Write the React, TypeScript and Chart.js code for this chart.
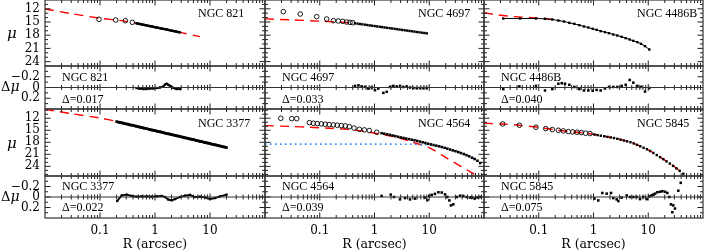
import React, { useEffect, useRef } from 'react';
import { Chart, registerables } from 'chart.js';
Chart.register(...registerables);

// ---------------- axis ticks ----------------
const xTickLabels = [0.1, 1, 10];
const xMajorTicks = [0.1, 1, 10];
const xMinorTicks = [0.02, 0.03, 0.04, 0.05, 0.06, 0.07, 0.08, 0.09, 0.2, 0.3, 0.4, 0.5, 0.6, 0.7, 0.8, 0.9, 2, 3, 4, 5, 6, 7, 8, 9, 20, 30, 40, 50, 60, 70, 80, 90];
const muTickLabels = [12, 15, 18, 21, 24];
const muMinorTicks = [10, 11, 13, 14, 16, 17, 19, 20, 22, 23, 25, 26];
const resTickLabels = [-0.2, 0, 0.2];
const resMinorTicks = [-0.3, -0.1, 0.1, 0.3];

// ---------------- NGC 821 ----------------
const n821CircR = [0.096, 0.193, 0.289, 0.387];
const n821CircMu = [14.39, 14.55, 14.7, 15.08];
const n821R = [0.46, 0.49, 0.52, 0.55, 0.59, 0.63, 0.67, 0.71, 0.76, 0.81, 0.86, 0.92, 0.98, 1.04, 1.11, 1.18, 1.26, 1.34, 1.43, 1.52, 1.62, 1.72, 1.84, 1.96, 2.09, 2.22, 2.37, 2.52, 2.68, 2.85];
const n821Mu = [15.3, 15.37, 15.44, 15.5, 15.58, 15.65, 15.72, 15.79, 15.86, 15.94, 16.0, 16.08, 16.15, 16.22, 16.29, 16.36, 16.44, 16.51, 16.58, 16.63, 16.68, 16.77, 16.86, 16.94, 17.01, 17.08, 17.15, 17.22, 17.29, 17.36];
const n821ModelR = [0.01, 0.03, 0.1, 0.3, 1, 3, 6.6];
const n821ModelMu = [12.05, 13.1, 14.15, 14.85, 16.15, 17.42, 18.33];
const n821ResR = [0.46, 0.53, 0.61, 0.7, 0.81, 0.93, 1.07, 1.23, 1.42, 1.52, 1.63, 1.75, 1.87, 2.01, 2.15, 2.31, 2.48, 2.85];
const n821Res = [0.01, 0.02, 0.03, 0.03, 0.02, 0.015, 0.01, 0.0, -0.02, -0.055, -0.07, -0.05, -0.03, -0.01, 0.005, 0.015, 0.03, 0.03];

// ---------------- NGC 4697 ----------------
const n4697CircR = [0.0216, 0.044, 0.088, 0.134, 0.178, 0.218, 0.262, 0.31, 0.357, 0.4];
const n4697CircMu = [12.65, 13.18, 13.79, 14.32, 14.7, 14.77, 14.85, 15.0, 15.08, 15.15];
const n4697R = [0.44, 0.49, 0.54, 0.6, 0.67, 0.74, 0.82, 0.91, 1.01, 1.12, 1.25, 1.38, 1.53, 1.7, 1.89, 2.1, 2.33, 2.59, 2.87, 3.19, 3.54, 3.93, 4.36, 4.84, 5.37, 5.96, 6.62, 7.35, 8.15, 9.0];
const n4697Mu = [15.3, 15.38, 15.45, 15.53, 15.61, 15.69, 15.77, 15.85, 15.93, 16.0, 16.09, 16.16, 16.24, 16.32, 16.4, 16.48, 16.56, 16.64, 16.72, 16.8, 16.87, 16.95, 17.03, 17.11, 17.19, 17.27, 17.35, 17.43, 17.5, 17.58];
const n4697ModelR = [0.01, 0.03, 0.1, 0.3, 0.45];
const n4697ModelMu = [14.3, 14.52, 14.8, 15.1, 15.25];
const n4697ResR = [0.44, 0.51, 0.58, 0.67, 0.77, 0.89, 1.02, 1.17, 1.45, 1.67, 1.92, 2.21, 2.54, 2.92, 3.36, 3.87, 4.45, 5.12, 5.89, 6.78, 7.8, 8.97];
const n4697Res = [-0.03, -0.04, -0.02, -0.01, 0.02, 0.0, 0.05, 0.02, 0.1, 0.08, -0.01, -0.03, -0.02, -0.03, -0.01, -0.02, 0.0, 0.01, 0.01, 0.01, 0.01, 0.01];

// ---------------- NGC 4486B ----------------
const n4486bR = [0.0225, 0.0455, 0.089, 0.13, 0.177, 0.228, 0.289, 0.362, 0.447, 0.551, 0.67, 0.805, 0.966, 1.14, 1.35, 1.62, 1.92, 2.3, 2.72, 3.27, 3.87, 4.58, 5.34, 6.32, 7.38, 8.73, 10.47];
const n4486bMu = [14.2, 14.2, 14.2, 14.27, 14.43, 14.66, 14.89, 15.19, 15.42, 15.72, 16.02, 16.25, 16.55, 16.78, 17.08, 17.31, 17.54, 17.84, 18.07, 18.37, 18.67, 18.98, 19.28, 19.58, 19.96, 20.49, 21.25];
const n4486bModelR = [0.01, 0.018, 0.037, 0.074, 0.15, 0.25];
const n4486bModelMu = [12.88, 13.4, 13.79, 14.0, 14.32, 14.75];
const n4486bResR = [0.0225, 0.0441, 0.089, 0.13, 0.177, 0.228, 0.263, 0.301, 0.362, 0.447, 0.551, 0.67, 0.805, 0.966, 1.14, 1.35, 1.62, 1.92, 2.3, 2.72, 3.27, 3.87, 4.58, 5.34, 6.32, 7.38, 8.73, 10.47];
const n4486bRes = [0.03, -0.02, -0.03, 0.055, 0.03, -0.07, -0.08, -0.07, -0.05, -0.01, 0.03, 0.055, 0.055, 0.06, 0.045, 0.055, 0.02, -0.01, -0.01, -0.01, -0.03, -0.05, -0.14, -0.09, -0.03, -0.01, 0.075, 0.01];

// ---------------- NGC 3377 ----------------
const n3377R = [0.2, 0.22, 0.25, 0.28, 0.32, 0.35, 0.4, 0.45, 0.5, 0.56, 0.63, 0.71, 0.79, 0.89, 1.0, 1.12, 1.26, 1.41, 1.58, 1.78, 2.0, 2.24, 2.51, 2.82, 3.16, 3.55, 3.98, 4.47, 5.01, 5.62, 6.31, 7.08, 7.94, 8.91, 10.0, 11.2, 12.6, 14.1, 15.8, 17.8, 20.0];
const n3377Mu = [12.84, 13.0, 13.16, 13.33, 13.49, 13.65, 13.81, 13.97, 14.13, 14.29, 14.46, 14.62, 14.78, 14.94, 15.1, 15.26, 15.42, 15.59, 15.75, 15.91, 16.07, 16.23, 16.39, 16.55, 16.72, 16.88, 17.04, 17.2, 17.36, 17.52, 17.68, 17.85, 18.01, 18.17, 18.33, 18.49, 18.65, 18.81, 18.98, 19.14, 19.3];
const n3377ModelR = [0.01, 0.03, 0.1, 0.2];
const n3377ModelMu = [9.78, 10.85, 11.95, 12.75];
const n3377ResR = [0.206, 0.248, 0.305, 0.377, 0.464, 0.573, 0.705, 0.869, 1.07, 1.32, 1.52, 1.75, 2.01, 2.31, 2.85, 3.51, 4.33, 5.34, 6.58, 8.11, 10.0, 12.3, 15.2, 20.1];
const n3377Res = [0.077, -0.03, -0.045, -0.02, -0.006, -0.013, -0.013, -0.006, -0.013, -0.02, 0.0, 0.05, 0.064, 0.04, 0.0, -0.026, -0.04, 0.0, -0.006, 0.006, 0.04, 0.02, -0.013, -0.045];

// ---------------- NGC 4564 ----------------
const n4564CircR = [0.0194, 0.0308, 0.038, 0.0646, 0.0764, 0.0902, 0.107, 0.126, 0.149, 0.177, 0.209, 0.248, 0.293, 0.347, 0.423, 0.528, 0.652, 0.804, 1.1];
const n4564CircMu = [12.02, 12.1, 12.1, 13.09, 13.25, 13.34, 13.42, 13.5, 13.58, 13.67, 13.75, 13.83, 13.92, 14.1, 14.45, 14.75, 14.91, 15.07, 15.49];
const n4564R = [1.35, 1.51, 1.7, 1.91, 2.14, 2.4, 2.69, 3.02, 3.39, 3.8, 4.27, 4.79, 5.37, 6.03, 6.76, 7.59, 8.51, 9.55, 10.7, 12.0, 13.5, 15.1, 17.0, 19.1, 21.4, 24.0, 26.9, 30.2, 33.9, 38.0, 42.7, 47.9, 53.7, 60.3, 67.6, 75.9, 85.1];
const n4564Mu = [15.73, 15.87, 16.01, 16.15, 16.31, 16.46, 16.62, 16.78, 16.92, 17.07, 17.21, 17.36, 17.51, 17.66, 17.81, 17.99, 18.17, 18.35, 18.52, 18.68, 18.84, 19.0, 19.18, 19.38, 19.59, 19.8, 20.01, 20.22, 20.44, 20.68, 20.92, 21.2, 21.48, 21.84, 22.16, 22.6, 23.17];
const n4564ModelR = [0.01, 0.03, 0.066, 0.15, 0.31, 0.6, 1.02, 2.54, 5, 10.3, 20.8, 35, 48.3, 62, 75];
const n4564ModelMu = [13.84, 14.05, 14.25, 14.5, 14.75, 15.2, 15.73, 16.73, 18.0, 19.45, 21.93, 23.73, 24.84, 25.7, 26.5];
const n4564DiskR = [0.01, 1, 5, 10, 15, 20, 30, 45, 60, 75, 85];
const n4564DiskMu = [18.45, 18.45, 18.5, 18.6, 19.0, 19.4, 20.2, 21.0, 21.85, 22.6, 23.3];
const n4564ResR = [1.35, 1.98, 2.27, 2.92, 3.61, 4.45, 5.5, 8.36, 9.23, 10.0, 11.1, 12.7, 14.7, 16.9, 19.4, 21.4, 23.3, 24.9, 27.5, 31.7, 36.5, 41.9, 48.3, 55.5, 60.3, 67.6, 75.9, 85.1];
const n4564Res = [-0.02, -0.045, 0.0, 0.045, 0.02, 0.045, 0.03, 0.01, 0.06, -0.02, -0.04, -0.06, -0.09, -0.085, -0.05, 0.0, 0.065, 0.16, 0.14, 0.0, -0.025, -0.02, 0.0, 0.01, 0.01, 0.03, 0.01, 0.0];

// ---------------- NGC 5845 ----------------
const n5845CircR = [0.0219, 0.0442, 0.089, 0.134, 0.177, 0.228, 0.281, 0.347, 0.417, 0.5, 0.599, 0.719, 0.863];
const n5845CircMu = [13.42, 13.75, 14.25, 14.58, 14.83, 15.0, 15.16, 15.33, 15.41, 15.49, 15.58, 15.74, 15.82];
const n5845R = [1.04, 1.19, 1.36, 1.57, 1.8, 2.07, 2.37, 2.72, 3.13, 3.59, 4.12, 4.73, 5.43, 6.24, 7.16, 8.22, 9.44, 10.8, 12.4, 14.3, 16.4, 18.8, 21.6, 24.8, 28.5, 32.7, 37.6, 43.7];
const n5845Mu = [16.07, 16.21, 16.36, 16.5, 16.65, 16.79, 16.94, 17.13, 17.34, 17.55, 17.77, 17.98, 18.28, 18.64, 19.0, 19.36, 19.72, 20.16, 20.67, 21.18, 21.69, 22.21, 22.76, 23.3, 23.88, 24.49, 25.12, 25.83];
const n5845ModelR = [0.01, 0.022, 0.044, 0.089, 0.18, 0.35, 0.7, 1.04, 2.37, 5, 10, 17.6, 26.8, 35.4, 45];
const n5845ModelMu = [13.26, 13.45, 13.75, 14.2, 14.8, 15.3, 15.7, 16.07, 16.94, 18.1, 19.9, 21.94, 23.6, 24.84, 25.95];
const n5845ResR = [1.04, 1.22, 1.45, 1.74, 2.09, 2.3, 2.65, 2.84, 3.27, 4.04, 4.65, 5.35, 6.14, 7.06, 8.13, 9.35, 10.5, 11.5, 12.4, 13.3, 14.7, 16.4, 18.1, 20.2, 22.3, 24.3, 26.0, 28.7, 27.5, 30.8, 35.4, 39.2];
const n5845Res = [0.03, 0.065, -0.077, -0.064, -0.077, 0.02, 0.045, 0.077, 0.013, -0.03, 0.0, 0.0, 0.0, 0.04, 0.0, 0.04, -0.013, -0.03, -0.045, -0.064, -0.09, -0.1, -0.11, -0.1, -0.077, 0.0, 0.14, 0.16, 0.29, 0.22, -0.12, -0.27];

// ---------------- layout helpers ----------------
const SERIF = "'DejaVu Serif', 'Liberation Serif', serif";
const LABEL_SERIF = "'Liberation Serif', 'DejaVu Serif', serif";
const COLS: [number, number][] = [[45, 265], [265, 484], [484, 703]];
const MAIN_ROWS: [number, number][] = [[0, 66], [109, 176]];
const RES_ROWS: [number, number][] = [[66, 109], [176, 218]];
const MU_RANGE: [number, number][] = [[10, 25], [9.7, 26.4]];
const RES_RANGE: [number, number] = [-0.4, 0.4];
const PAGE_W = 705;
const PAGE_H = 252;

const pts = (xs: number[], ys: number[]) => xs.map((x, i) => ({ x, y: ys[i] }));

const filled = (xs: number[], ys: number[], r = 1.8) => ({
  data: pts(xs, ys), showLine: false, pointStyle: 'rect', pointRadius: r,
  pointBackgroundColor: '#000', pointBorderColor: '#000', pointBorderWidth: 0,
});
const dense = (xs: number[], ys: number[], w = 2.4, r = 1.7) => ({
  data: pts(xs, ys), showLine: true, borderColor: '#000', borderWidth: w, tension: 0,
  pointStyle: 'rect', pointRadius: r, pointBackgroundColor: '#000', pointBorderWidth: 0,
});
const joined = (xs: number[], ys: number[]) => ({
  data: pts(xs, ys), showLine: true, borderColor: '#000', borderWidth: 1, tension: 0,
  pointStyle: 'rect', pointRadius: 1.7, pointBackgroundColor: '#000', pointBorderWidth: 0,
});
const open = (xs: number[], ys: number[]) => ({
  data: pts(xs, ys), showLine: false, pointStyle: 'circle', pointRadius: 2.3,
  pointBorderColor: '#000', pointBorderWidth: 0.9, pointBackgroundColor: 'rgba(255,255,255,0)',
});
const redDash = (xs: number[], ys: number[]) => ({
  data: pts(xs, ys), showLine: true, borderColor: '#ff0000', borderWidth: 1.4,
  borderDash: [9, 6], pointRadius: 0, tension: 0.3,
});
const blueDot = (xs: number[], ys: number[]) => ({
  data: pts(xs, ys), showLine: true, borderColor: '#2b8cff', borderWidth: 1.6,
  borderDash: [1.6, 3.4], pointRadius: 0, tension: 0.3,
});

type Galaxy = { name: string; delta: string; col: number; row: number; main: any[]; res: any[] };

const galaxies: Galaxy[] = [
  { name: 'NGC 821', delta: '0.017', col: 0, row: 0,
    main: [dense(n821R, n821Mu, 2.2, 1.6), open(n821CircR, n821CircMu), redDash(n821ModelR, n821ModelMu)],
    res: [dense(n821ResR, n821Res, 1.8, 1.6)] },
  { name: 'NGC 4697', delta: '0.033', col: 1, row: 0,
    main: [filled(n4697R, n4697Mu, 1.7), open(n4697CircR, n4697CircMu), redDash(n4697ModelR, n4697ModelMu)],
    res: [filled(n4697ResR, n4697Res)] },
  { name: 'NGC 4486B', delta: '0.040', col: 2, row: 0,
    main: [joined(n4486bR, n4486bMu), redDash(n4486bModelR, n4486bModelMu)],
    res: [filled(n4486bResR, n4486bRes)] },
  { name: 'NGC 3377', delta: '0.022', col: 0, row: 1,
    main: [dense(n3377R, n3377Mu, 2.8, 1.8), redDash(n3377ModelR, n3377ModelMu)],
    res: [dense(n3377ResR, n3377Res, 1.8, 1.6)] },
  { name: 'NGC 4564', delta: '0.039', col: 1, row: 1,
    main: [filled(n4564R, n4564Mu, 1.8), open(n4564CircR, n4564CircMu), blueDot(n4564DiskR, n4564DiskMu), redDash(n4564ModelR, n4564ModelMu)],
    res: [filled(n4564ResR, n4564Res)] },
  { name: 'NGC 5845', delta: '0.075', col: 2, row: 1,
    main: [filled(n5845R, n5845Mu, 1.7), open(n5845CircR, n5845CircMu), redDash(n5845ModelR, n5845ModelMu)],
    res: [filled(n5845ResR, n5845Res)] },
];

type Panel = {
  key: string; col: number; row: number; res: boolean;
  plot: { l: number; r: number; t: number; b: number };
  canvas: { l: number; r: number; t: number; b: number };
  yMin: number; yMax: number; datasets: any[];
};

const panels: Panel[] = [];
galaxies.forEach((g) => {
  [false, true].forEach((res) => {
    const [l, r] = COLS[g.col];
    const [t, b] = res ? RES_ROWS[g.row] : MAIN_ROWS[g.row];
    const isBottom = res && g.row === 1;
    const canvas = {
      l: g.col === 0 ? 0 : l - 3,
      r: Math.min(PAGE_W, r + 3),
      t: Math.max(0, t - 3),
      b: isBottom ? PAGE_H : b + 3,
    };
    const [yMin, yMax] = res ? RES_RANGE : MU_RANGE[g.row];
    panels.push({
      key: g.name + (res ? '-res' : '-main'), col: g.col, row: g.row, res,
      plot: { l, r, t, b }, canvas, yMin, yMax, datasets: res ? g.res : g.main,
    });
  });
});

function makeFrame(res: boolean) {
  return {
    id: 'frame',
    afterDatasetsDraw(chart: any) {
      const { ctx, chartArea: a, scales } = chart;
      const sx = scales.x;
      const sy = scales.y;
      const L = a.left, R = a.right, T = a.top, B = a.bottom;
      ctx.save();
      ctx.strokeStyle = '#222';
      ctx.lineWidth = 1;
      ctx.beginPath();
      const xt = (vals: number[], len: number, zlen: number) => {
        vals.forEach((v) => {
          const px = sx.getPixelForValue(v);
          ctx.moveTo(px, B); ctx.lineTo(px, B - len);
          ctx.moveTo(px, T); ctx.lineTo(px, T + len);
          if (res) {
            const y0 = sy.getPixelForValue(0);
            ctx.moveTo(px, y0 - zlen); ctx.lineTo(px, y0 + zlen);
          }
        });
      };
      xt(xMajorTicks, 5.5, 3.5);
      xt(xMinorTicks, 3, 2.5);
      const yt = (vals: number[], len: number) => {
        vals.forEach((v) => {
          if (v <= Math.min(sy.min, sy.max) || v >= Math.max(sy.min, sy.max)) return;
          const py = sy.getPixelForValue(v);
          ctx.moveTo(L, py); ctx.lineTo(L + len, py);
          ctx.moveTo(R, py); ctx.lineTo(R - len, py);
        });
      };
      yt(res ? resTickLabels : muTickLabels, 5.5);
      yt(res ? resMinorTicks : muMinorTicks, 3);
      ctx.stroke();
      ctx.lineWidth = 1.2;
      ctx.strokeStyle = '#333';
      ctx.strokeRect(L, T, R - L, B - T);
      if (res) {
        const y0 = sy.getPixelForValue(0);
        ctx.beginPath();
        ctx.moveTo(L, y0); ctx.lineTo(R, y0);
        ctx.stroke();
      }
      ctx.restore();
    },
  };
}

const fmtRes = (v: number) => (v === 0 ? '0' : (v < 0 ? '\u2212' : '') + Math.abs(v).toFixed(1));

function makeConfig(p: Panel): any {
  const isBottom = p.res && p.row === 1;
  const showY = p.col === 0;
  const padding = {
    left: p.col === 0 ? 0 : p.plot.l - p.canvas.l,
    right: p.canvas.r - p.plot.r,
    top: p.plot.t - p.canvas.t,
    bottom: isBottom ? 0 : p.canvas.b - p.plot.b,
  };
  return {
    type: 'scatter',
    data: { datasets: p.datasets },
    options: {
      responsive: false,
      animation: false,
      devicePixelRatio: 1,
      events: [],
      layout: { autoPadding: false, padding },
      plugins: { legend: { display: false }, tooltip: { enabled: false } },
      scales: {
        x: {
          type: 'logarithmic', min: 0.01, max: 100,
          display: isBottom,
          grid: { display: false, drawTicks: false },
          border: { display: false },
          afterBuildTicks: (s: any) => { s.ticks = xTickLabels.map((v) => ({ value: v })); },
          afterFit: (s: any) => {
            if (isBottom) s.height = PAGE_H - p.plot.b;
            s.paddingLeft = 0; s.paddingRight = 0;
          },
          ticks: {
            color: '#000', padding: 6, autoSkip: false, maxRotation: 0,
            font: { family: SERIF, size: 12 },
            callback: (v: number) => String(v),
          },
          title: {
            display: true, text: 'R (arcsec)', color: '#000', padding: 0,
            font: { family: SERIF, size: 12.5 },
          },
        },
        y: {
          type: 'linear', reverse: true, min: p.yMin, max: p.yMax,
          display: showY,
          grid: { display: false, drawTicks: false },
          border: { display: false },
          afterBuildTicks: (s: any) => {
            s.ticks = (p.res ? resTickLabels : muTickLabels).map((v) => ({ value: v }));
          },
          afterFit: (s: any) => {
            if (showY) s.width = COLS[0][0];
            s.paddingTop = 0; s.paddingBottom = 0;
          },
          ticks: {
            color: '#000', padding: 5, autoSkip: false,
            font: { family: SERIF, size: 12 },
            callback: (v: number) => (p.res ? fmtRes(v) : String(v)),
          },
        },
      },
    },
    plugins: [makeFrame(p.res)],
  };
}

function PanelChart({ p }: { p: Panel }) {
  const ref = useRef<HTMLCanvasElement>(null);
  const w = p.canvas.r - p.canvas.l;
  const h = p.canvas.b - p.canvas.t;
  useEffect(() => {
    if (!ref.current) return;
    const chart = new Chart(ref.current, makeConfig(p));
    return () => chart.destroy();
  }, []);
  return (
    <canvas
      ref={ref}
      width={w}
      height={h}
      style={{ position: 'absolute', left: p.canvas.l, top: p.canvas.t, width: w, height: h }}
    />
  );
}

const textStyle = (left: number, cy: number, size = 12, family = LABEL_SERIF): React.CSSProperties => ({
  position: 'absolute', left, top: cy - size * 0.6, fontFamily: family, fontSize: size,
  lineHeight: `${size * 1.2}px`, color: '#000', whiteSpace: 'nowrap',
});

export default function App() {
  return (
    <div style={{ position: 'absolute', left: 0, top: 0, width: PAGE_W, height: PAGE_H, overflow: 'hidden', background: '#fff' }}>
      {panels.map((p) => <PanelChart key={p.key} p={p} />)}
      {galaxies.map((g) => {
        const l = COLS[g.col][0];
        const mt = MAIN_ROWS[g.row][0];
        const rt = RES_ROWS[g.row][0];
        return (
          <React.Fragment key={g.name}>
            <span style={textStyle(l + 153, mt + (g.row === 0 ? 13 : 14))}>{g.name}</span>
            <span style={textStyle(l + 17, rt + (g.row === 0 ? 11 : 10))}>{g.name}</span>
            <span style={textStyle(l + 17, rt + (g.row === 0 ? 33 : 31))}>{'\u0394=' + g.delta}</span>
          </React.Fragment>
        );
      })}
      {MAIN_ROWS.map(([t, b], i) => (
        <span key={'mu' + i} style={{ ...textStyle(7, (t + b) / 2, 15, SERIF), fontStyle: 'italic' }}>μ</span>
      ))}
      {RES_ROWS.map(([t, b], i) => (
        <span key={'dmu' + i} style={textStyle(1, (t + b) / 2 - 0.5, 13, SERIF)}>Δ<i style={{ fontSize: 14 }}>μ</i></span>
      ))}
    </div>
  );
}
